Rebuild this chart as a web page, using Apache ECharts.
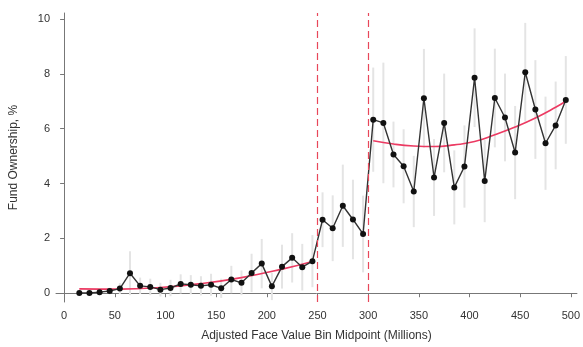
<!DOCTYPE html>
<html>
<head>
<meta charset="utf-8">
<script src="https://cdn.jsdelivr.net/npm/echarts@6/dist/echarts.min.js"></script>
<style>html,body{margin:0;padding:0;background:#fff;}#c{width:583px;height:347px;}</style>
</head>
<body>
<div id="c"></div>
<script>
// Bin midpoints (millions)
const binMid = [15,25,35,45,55,65,75,85,95,105,115,125,135,145,155,165,175,185,195,205,215,225,235,245,
  255,265,275,285,295,
  305,315,325,335,345,355,365,375,385,395,405,415,425,435,445,455,465,475,485,495];
// Fund ownership (%)
const ownership = [0.01,0.01,0.04,0.08,0.17,0.73,0.27,0.23,0.13,0.19,0.34,0.31,0.27,0.31,0.18,0.5,0.38,0.74,1.08,0.25,0.97,1.29,0.95,1.17,
  2.68,2.37,3.19,2.69,2.16,
  6.33,6.21,5.06,4.63,3.71,7.11,4.22,6.21,3.86,4.62,7.86,4.09,7.12,6.41,5.13,8.06,6.70,5.47,6.12,7.05];
// Half-width of confidence interval
const ciHalf = [0.08,0.08,0.1,0.12,0.2,0.8,0.3,0.3,0.25,0.3,0.35,0.35,0.35,0.4,0.35,0.5,0.45,0.7,0.9,0.5,0.8,0.9,0.85,0.95,
  1.0,1.2,1.5,1.45,1.4,
  1.9,2.2,1.2,1.35,1.3,1.8,1.4,1.8,1.35,1.5,1.8,1.5,1.8,1.6,1.7,1.8,1.8,1.7,1.6,1.6];
// Fitted curves
const fitLeftX = [15,55,95,135,175,215,245];
const fitLeftY = [0.16,0.15,0.21,0.35,0.57,0.88,1.16];
const fitRightX = [305,325,345,365,385,405,425,445,465,485,495];
const fitRightY = [5.56,5.44,5.37,5.35,5.41,5.53,5.78,6.06,6.39,6.78,7.0];
// Thresholds
const thresholds = [250,300];
// Tick labels
const xTicks = [0,50,100,150,200,250,300,350,400,450,500];
const yTicks = [0,2,4,6,8,10];

const ff = '"Liberation Sans", Arial, Helvetica, sans-serif';
const chart = echarts.init(document.getElementById('c'));
const errData = binMid.map((x,i)=>[x, ownership[i]-ciHalf[i], ownership[i]+ciHalf[i]]);
const red = '#ec3a62';

chart.setOption({
  animation: false,
  backgroundColor: '#fff',
  grid: {left: 53, right: 3, top: 13, bottom: 41},
  xAxis: {
    type: 'value', min: -8, max: 506,
    name: 'Adjusted Face Value Bin Midpoint (Millions)',
    nameLocation: 'middle', nameGap: 28,
    nameTextStyle: {fontFamily: ff, fontSize: 12, color: '#333'},
    axisLine: {show: true, lineStyle: {color: '#777', width: 1}},
    axisTick: {show: true, length: 4, lineStyle: {color: '#777'}, customValues: xTicks},
    axisLabel: {fontFamily: ff, fontSize: 11, color: '#333', margin: 8, customValues: xTicks},
    splitLine: {show: false}
  },
  yAxis: {
    type: 'value', min: -0.32, max: 10.22,
    name: 'Fund Ownership, %',
    nameLocation: 'middle', nameGap: 36,
    nameTextStyle: {fontFamily: ff, fontSize: 12, color: '#333'},
    axisLine: {show: true, lineStyle: {color: '#777', width: 1}},
    axisTick: {show: true, length: 4, lineStyle: {color: '#777'}, customValues: yTicks},
    axisLabel: {fontFamily: ff, fontSize: 11, color: '#333', margin: 6, customValues: yTicks},
    splitLine: {show: false}
  },
  series: [
    {
      type: 'custom',
      data: errData,
      z: 1,
      renderItem: function(params, api){
        const x = api.value(0), lo = api.value(1), hi = api.value(2);
        const p1 = api.coord([x, hi]);
        const p2 = api.coord([x, lo]);
        return {type: 'line', shape: {x1: p1[0], y1: p1[1], x2: p2[0], y2: p2[1]},
          style: {stroke: '#e4e4e4', lineWidth: 2}};
      }
    },
    {
      type: 'line', z: 3, smooth: true, symbol: 'none',
      data: fitLeftX.map((x,i)=>[x, fitLeftY[i]]),
      lineStyle: {color: red, width: 1.6}
    },
    {
      type: 'line', z: 3, smooth: true, symbol: 'none',
      data: fitRightX.map((x,i)=>[x, fitRightY[i]]),
      lineStyle: {color: red, width: 1.6},
      markLine: {
        silent: true, symbol: 'none', label: {show: false},
        lineStyle: {color: '#e8475a', type: [7,4], width: 1.2},
        data: thresholds.map(t=>({xAxis: t}))
      }
    },
    {
      type: 'line', z: 4,
      data: binMid.map((x,i)=>[x, ownership[i]]),
      symbol: 'circle', symbolSize: 6,
      itemStyle: {color: '#111'},
      lineStyle: {color: '#333', width: 1.4}
    }
  ]
});
</script>
</body>
</html>
